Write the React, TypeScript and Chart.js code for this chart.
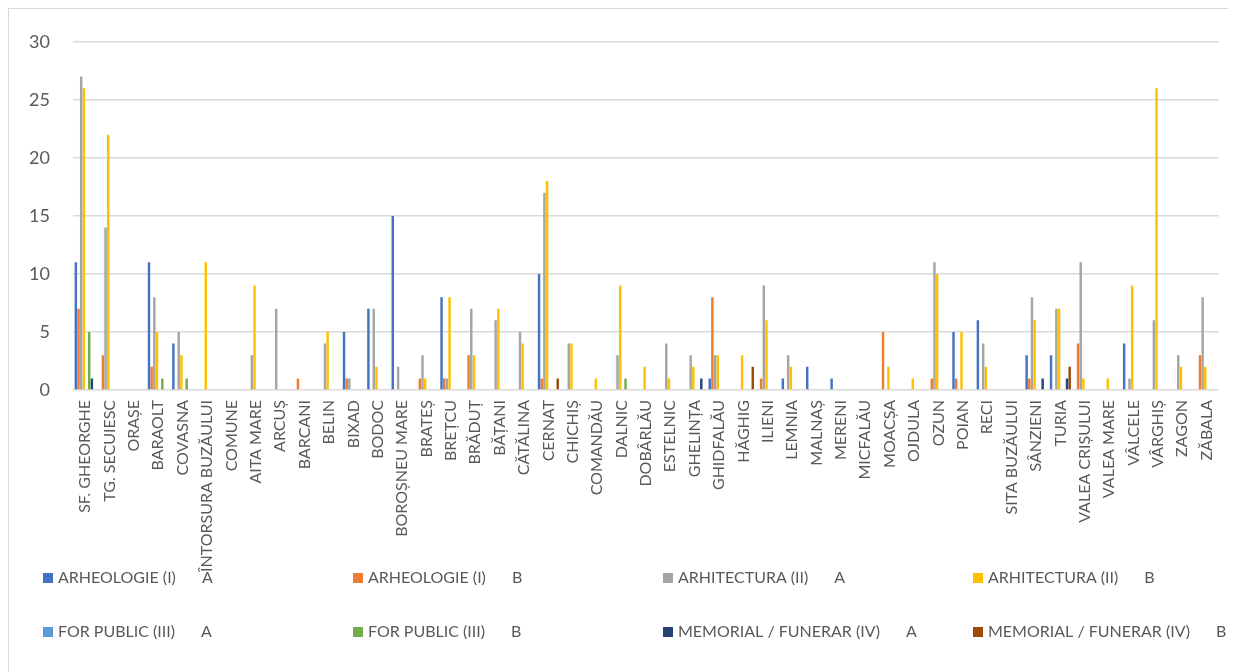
import React, { useEffect, useRef } from "react";
import { Chart, registerables } from "chart.js";

Chart.register(...registerables);

const categories = [
  "SF. GHEORGHE", "TG. SECUIESC", "ORAȘE", "BARAOLT", "COVASNA", "ÎNTORSURA BUZĂULUI",
  "COMUNE", "AITA MARE", "ARCUȘ", "BARCANI", "BELIN", "BIXAD", "BODOC", "BOROȘNEU MARE",
  "BRATEȘ", "BREȚCU", "BRĂDUȚ", "BĂȚANI", "CĂTĂLINA", "CERNAT", "CHICHIȘ", "COMANDĂU",
  "DALNIC", "DOBÂRLĂU", "ESTELNIC", "GHELINȚA", "GHIDFALĂU", "HĂGHIG", "ILIENI", "LEMNIA",
  "MALNAȘ", "MERENI", "MICFALĂU", "MOACȘA", "OJDULA", "OZUN", "POIAN", "RECI",
  "SITA BUZĂULUI", "SÂNZIENI", "TURIA", "VALEA CRIȘULUI", "VALEA MARE", "VÂLCELE",
  "VÂRGHIȘ", "ZAGON", "ZĂBALA",
];

const arheologieA = [11, 0, 0, 11, 4, 0, 0, 0, 0, 0, 0, 5, 7, 15, 0, 8, 0, 0, 0, 10, 0, 0, 0, 0, 0, 0, 1, 0, 0, 1, 2, 1, 0, 0, 0, 0, 5, 6, 0, 3, 3, 0, 0, 4, 0, 0, 0];
const arheologieB = [7, 3, 0, 2, 0, 0, 0, 0, 0, 1, 0, 1, 0, 0, 1, 1, 3, 0, 0, 1, 0, 0, 0, 0, 0, 0, 8, 0, 1, 0, 0, 0, 0, 5, 0, 1, 1, 0, 0, 1, 0, 4, 0, 0, 0, 0, 3];
const arhitecturaA = [27, 14, 0, 8, 5, 0, 0, 3, 7, 0, 4, 1, 7, 2, 3, 1, 7, 6, 5, 17, 4, 0, 3, 0, 4, 3, 3, 0, 9, 3, 0, 0, 0, 0, 0, 11, 0, 4, 0, 8, 7, 11, 0, 1, 6, 3, 8];
const arhitecturaB = [26, 22, 0, 5, 3, 11, 0, 9, 0, 0, 5, 0, 2, 0, 1, 8, 3, 7, 4, 18, 4, 1, 9, 2, 1, 2, 3, 3, 6, 2, 0, 0, 0, 2, 1, 10, 5, 2, 0, 6, 7, 1, 1, 9, 26, 2, 2];
const forPublicA = [0, 0, 0, 0, 0, 0, 0, 0, 0, 0, 0, 0, 0, 0, 0, 0, 0, 0, 0, 0, 0, 0, 0, 0, 0, 0, 0, 0, 0, 0, 0, 0, 0, 0, 0, 0, 0, 0, 0, 0, 0, 0, 0, 0, 0, 0, 0];
const forPublicB = [5, 0, 0, 1, 1, 0, 0, 0, 0, 0, 0, 0, 0, 0, 0, 0, 0, 0, 0, 0, 0, 0, 1, 0, 0, 0, 0, 0, 0, 0, 0, 0, 0, 0, 0, 0, 0, 0, 0, 0, 0, 0, 0, 0, 0, 0, 0];
const memorialA = [1, 0, 0, 0, 0, 0, 0, 0, 0, 0, 0, 0, 0, 0, 0, 0, 0, 0, 0, 0, 0, 0, 0, 0, 0, 1, 0, 0, 0, 0, 0, 0, 0, 0, 0, 0, 0, 0, 0, 1, 1, 0, 0, 0, 0, 0, 0];
const memorialB = [0, 0, 0, 0, 0, 0, 0, 0, 0, 0, 0, 0, 0, 0, 0, 0, 0, 0, 0, 1, 0, 0, 0, 0, 0, 0, 0, 2, 0, 0, 0, 0, 0, 0, 0, 0, 0, 0, 0, 0, 2, 0, 0, 0, 0, 0, 0];

const seriesNames = [
  "ARHEOLOGIE (I)", "ARHEOLOGIE (I)", "ARHITECTURA (II)", "ARHITECTURA (II)",
  "FOR PUBLIC (III)", "FOR PUBLIC (III)", "MEMORIAL / FUNERAR (IV)", "MEMORIAL / FUNERAR (IV)",
];
const seriesLetters = ["A", "B", "A", "B", "A", "B", "A", "B"];
const seriesValues = [arheologieA, arheologieB, arhitecturaA, arhitecturaB, forPublicA, forPublicB, memorialA, memorialB];
const seriesColors = ["#4472C4", "#ED7D31", "#A5A5A5", "#FFC000", "#5B9BD5", "#70AD47", "#264478", "#9E480E"];

const yTicks = [0, 5, 10, 15, 20, 25, 30];

const TEXT = "#595959";

export default function App() {
  const ref = useRef<HTMLCanvasElement>(null);

  useEffect(() => {
    if (!ref.current) return;
    const legendPlugin = {
      id: "customLegend",
      afterDraw(chart: any) {
        const ctx = chart.ctx as CanvasRenderingContext2D;
        ctx.save();
        ctx.font = "16px Lato";
        ctx.textBaseline = "middle";
        ctx.textAlign = "left";
        const colX0 = 35;
        const colStep = 310;
        const rowY = [570, 624];
        const gap = 26;
        seriesNames.forEach((name, i) => {
          const col = i % 4;
          const row = Math.floor(i / 4);
          const mx = colX0 + col * colStep;
          const my = rowY[row];
          ctx.fillStyle = seriesColors[i];
          ctx.fillRect(mx, my - 5, 10, 10);
          ctx.fillStyle = TEXT;
          const tx = mx + 15;
          ctx.fillText(name, tx, my);
          const w = ctx.measureText(name).width;
          ctx.fillText(seriesLetters[i], tx + w + gap, my);
        });
        ctx.restore();
      },
    };

    const chart = new Chart(ref.current, {
      type: "bar",
      data: {
        labels: categories,
        datasets: seriesValues.map((vals, i) => ({
          label: seriesNames[i] + " " + seriesLetters[i],
          data: vals,
          backgroundColor: seriesColors[i],
          borderWidth: 0,
          barPercentage: 0.92,
          categoryPercentage: 0.875,
        })),
      },
      options: {
        animation: false,
        responsive: false,
        devicePixelRatio: 1,
        layout: { padding: { top: 29, right: 16, bottom: 0, left: 0 } },
        plugins: {
          legend: { display: false },
          tooltip: { enabled: false },
        },
        scales: {
          x: {
            grid: { display: false, drawTicks: false },
            border: { display: false },
            ticks: {
              autoSkip: false,
              maxRotation: 90,
              minRotation: 90,
              padding: 10,
              color: TEXT,
              font: { family: "Lato", size: 16 },
            },
            afterFit: (scale: any) => {
              scale.height = 282;
            },
          },
          y: {
            min: 0,
            max: 30,
            grid: { color: "#d9d9d9", lineWidth: 1.5, drawTicks: false },
            border: { display: false },
            afterBuildTicks: (scale: any) => {
              scale.ticks = yTicks.map((v) => ({ value: v }));
            },
            ticks: {
              padding: 23,
              color: TEXT,
              font: { family: "Lato", size: 18 },
            },
            afterFit: (scale: any) => {
              scale.width = 65;
            },
          },
        },
      },
      plugins: [legendPlugin],
    });
    return () => chart.destroy();
  }, []);

  return (
    <div style={{ position: "relative", width: 1228, height: 664, overflow: "hidden" }}>
      <div
        style={{
          position: "absolute",
          left: 0,
          top: 0,
          width: 1260,
          height: 700,
          border: "1px solid #d9d9d9",
          boxSizing: "border-box",
        }}
      />
      <canvas ref={ref} width={1228} height={664} style={{ position: "absolute", left: 0, top: 0 }} />
    </div>
  );
}
